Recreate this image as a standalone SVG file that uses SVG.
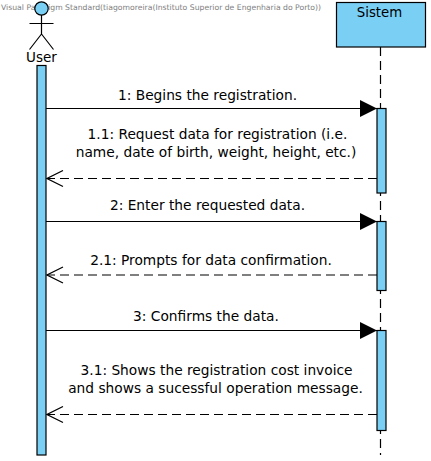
<svg xmlns="http://www.w3.org/2000/svg" width="431" height="461" viewBox="0 0 431 461">
<style>
text{font-family:"DejaVu Sans",sans-serif;fill:#000;text-anchor:middle}
.m{font-size:13.750px}
.wm{font-size:7.700px;fill:#808080;text-anchor:start}
.box{fill:#7ACFF5;stroke:#000;stroke-width:1.200}
.l{fill:none;stroke:#000;stroke-width:1.200}
.d{fill:none;stroke:#000;stroke-width:1.200;stroke-dasharray:9 5}
</style>
<defs>
<marker id="a" markerUnits="userSpaceOnUse" markerWidth="18" markerHeight="18" refX="17" refY="9" orient="auto"><path d="M0 .5L17 9L0 17.500Z" fill="#000"/></marker>
<marker id="o" markerUnits="userSpaceOnUse" markerWidth="18" markerHeight="18" refX="17" refY="9" orient="auto"><path d="M1 1L17 9L1 17" fill="none" stroke="#000" stroke-width="1.200"/></marker>
</defs>
<rect width="431" height="461" fill="#fff"/>
<text class="wm" x="1" y="10">Visual Paradigm Standard(tiagomoreira(Instituto Superior de Engenharia do Porto))</text>
<g id="user">
<circle class="box" cx="41.500" cy="8.500" r="6.700"/>
<path class="l" d="M41.500 15V34M29.500 23.500H53.500M41.500 34L29.500 49.500M41.500 34L53.500 49.500"/>
<text x="41.500" y="62" font-size="13.500">User</text>
<rect class="box" x="37" y="65.500" width="9" height="389.500"/>
</g>
<g id="sistem">
<rect class="box" x="336.500" y="2.500" width="89" height="44.500"/>
<text x="379.500" y="17" font-size="13.300">Sistem</text>
<path class="d" d="M380.500 47V455"/>
<rect class="box" x="377" y="108.500" width="9" height="84.500"/>
<rect class="box" x="377" y="221.500" width="9" height="69"/>
<rect class="box" x="377" y="330.500" width="9" height="100"/>
</g>
<g id="connectors">
<path class="l" d="M46 108.500H377" marker-end="url(#a)"/>
<path class="d" d="M377 178.500H47" marker-end="url(#o)"/>
<path class="l" d="M46 221.500H377" marker-end="url(#a)"/>
<path class="d" d="M377 275H47" marker-end="url(#o)"/>
<path class="l" d="M46 330.500H377" marker-end="url(#a)"/>
<path class="d" d="M377 414.500H47" marker-end="url(#o)"/>
</g>
<g id="labels">
<text class="m" x="207.500" y="100">1: Begins the registration.</text>
<text class="m" x="217.500" y="139">1.1: Request data for registration (i.e.</text>
<text class="m" x="216" y="157">name, date of birth, weight, height, etc.)</text>
<text class="m" x="207.500" y="210">2: Enter the requested data.</text>
<text class="m" x="211" y="265">2.1: Prompts for data confirmation.</text>
<text class="m" x="206" y="321">3: Confirms the data.</text>
<text class="m" x="216.500" y="375">3.1: Shows the registration cost invoice</text>
<text class="m" x="215.500" y="393">and shows a sucessful operation message.</text>
</g>
</svg>
